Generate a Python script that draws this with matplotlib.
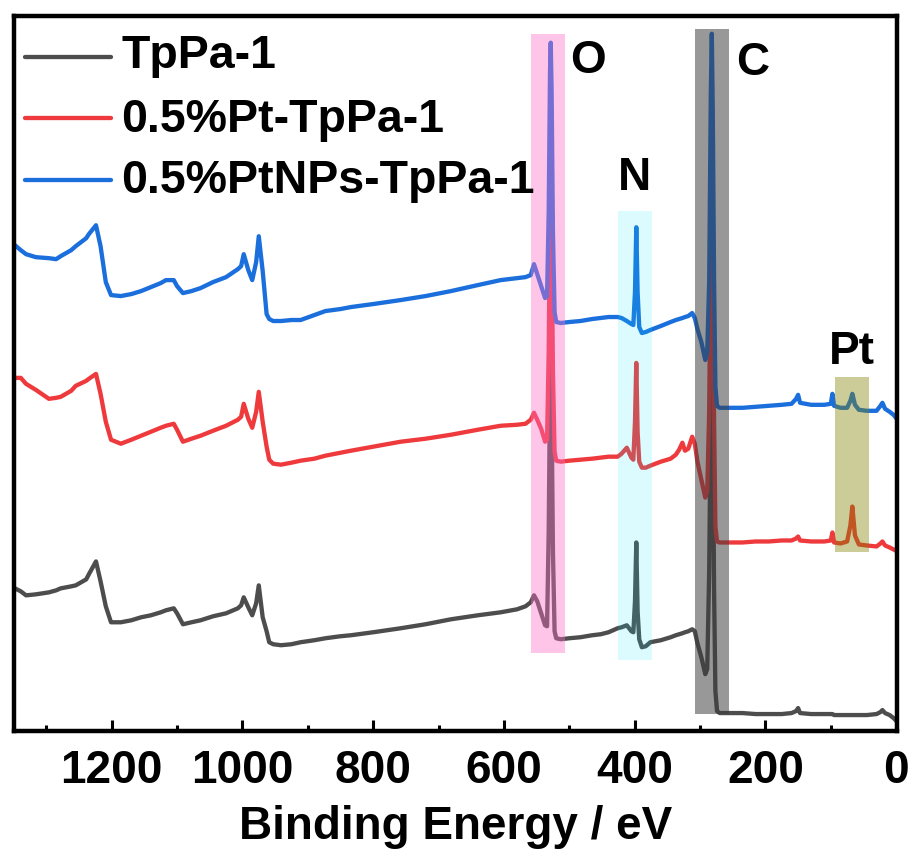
import matplotlib
matplotlib.use("Agg")
import matplotlib.pyplot as plt
from matplotlib.patches import Rectangle
from matplotlib.ticker import MultipleLocator

plt.rcParams['font.family'] = ['Liberation Sans', 'DejaVu Sans']
plt.rcParams['font.weight'] = 'bold'

# XPS survey spectra (binding energy in eV, intensity in a.u., curves offset)
binding_energy = [
    1348, 1339, 1331, 1316, 1296, 1285, 1278, 1262, 1255, 1239, 1235, 1224, 1217, 1209, 1201,
    1186, 1170, 1155, 1140, 1125, 1117, 1105, 1100, 1091, 1078, 1064, 1045, 1025, 1007, 1002,
    998, 991, 985, 979, 975, 969, 963, 959, 953, 941, 925, 911, 890, 873, 850, 834, 800, 758,
    720, 681, 640, 605, 580, 567, 559, 554, 549, 543, 537, 534, 531.5, 529.5, 528.4, 527, 525,
    522.5, 520, 513, 500, 483, 465, 452, 440, 426, 420, 412, 405, 402, 399.5, 397.5, 395.5, 393,
    389, 383, 376, 360, 345, 337, 332, 327, 323, 318, 312, 308, 304, 298, 292, 289, 286, 283.5,
    282, 280.5, 278.5, 276.5, 274, 270, 255, 235, 215, 195, 175, 160, 153, 150, 147, 130, 110,
    100, 97.5, 95, 85, 75, 70, 67, 63, 57, 45, 30, 24, 21, 17, 10, 4, -2,
]

tppa1 = [
    143, 140, 136, 137, 139, 141, 143, 145, 146, 152, 157, 170, 150, 125, 109,
    109, 111, 114, 116, 119, 121, 123, 118, 107, 109, 111, 115, 118, 123, 126,
    134, 124, 116, 128, 146, 114, 100, 89, 87, 86, 87, 89, 91, 93, 95, 96, 99, 103,
    107, 112, 116, 119, 122, 125, 129, 136, 130, 118, 106, 105, 200, 340, 370, 320, 180,
    100, 93, 92, 93, 94, 96, 97, 99, 103, 104, 106, 100, 99, 130, 189, 120, 92,
    84, 85, 89, 91, 94, 96, 97, 98, 99, 100, 102, 100, 88, 74, 57, 62, 160, 330,
    390, 310, 140, 40, 20, 18, 18, 18, 17, 17, 17, 18, 20, 23, 18, 17, 17,
    17, 17, 16, 16, 16, 16, 16, 16, 16, 16, 17, 19, 21, 18, 16, 13, 9,
]

pt_tppa1 = [
    354, 354, 348, 342, 333, 334, 335, 341, 346, 351, 353, 358, 338, 310, 292,
    288, 292, 296, 300, 304, 306, 308, 302, 290, 293, 296, 301, 306, 312, 315,
    328, 313, 304, 320, 340, 310, 285, 272, 268, 267, 269, 271, 273, 276, 279, 281, 285, 290,
    293, 297, 302, 306, 307, 308, 312, 319, 312, 303, 290, 292, 380, 520, 550, 500, 360,
    280, 271, 270, 271, 272, 273, 274, 275, 275, 278, 284, 274, 272, 310, 369, 300, 270,
    264, 264, 266, 270, 273, 277, 282, 289, 281, 283, 295, 288, 270, 252, 234, 240, 320, 500,
    560, 480, 310, 205, 190, 189, 189, 189, 190, 190, 191, 191, 193, 195, 191, 190, 190,
    191, 199, 189, 188, 190, 206, 225, 196, 187, 186, 185, 188, 190, 186, 184, 182, 180,
]

ptnps_tppa1 = [
    487, 482, 478, 475, 474, 473, 476, 482, 486, 494, 498, 507, 486, 450, 437,
    436, 438, 441, 445, 449, 452, 452, 446, 439, 441, 444, 450, 455, 463, 466,
    478, 462, 452, 470, 496, 461, 418, 413, 411, 411, 412, 412, 417, 421, 423, 425, 428, 432,
    436, 441, 447, 452, 454, 455, 457, 468, 458, 446, 434, 436, 520, 660, 690, 640, 500,
    420, 410, 409, 410, 411, 413, 414, 415, 415, 414, 411, 408, 407, 440, 505, 440, 405,
    399, 400, 402, 406, 410, 412, 413, 414, 415, 416, 419, 414, 403, 390, 372, 380, 450, 640,
    699, 620, 450, 345, 326, 324, 324, 324, 325, 326, 327, 328, 333, 337, 329, 327, 327,
    328, 338, 326, 324, 324, 331, 338, 327, 322, 321, 321, 326, 329, 323, 320, 317, 312,
]

series_labels = ['TpPa-1', '0.5%Pt-TpPa-1', '0.5%PtNPs-TpPa-1']
series_colors = ['#4d4d4d', '#ef3a3d', '#1b6fdc']

# highlighted element regions
band_labels = ['O', 'N', 'C', 'Pt']
band_energy_high = [559, 425, 307, 93]
band_energy_low = [507, 373, 256, 42]
band_intensity_low = [78, 71, 17, 179]
band_intensity_high = [699, 521, 704, 355]
band_colors = ['#ff6ec7', '#00e8ff', '#3a3a3a', '#808000']
band_alphas = [0.40, 0.14, 0.52, 0.40]
band_text_x = [472, 400, 220, 68]
band_text_y = [672, 554, 670, 380]

fig = plt.figure(figsize=(9.14, 8.52), dpi=100)
ax = fig.add_axes([0.0149, 0.142, 0.967, 0.8395])

for vals, lab, col in zip([tppa1, pt_tppa1, ptnps_tppa1], series_labels, series_colors):
    ax.plot(binding_energy, vals, color=col, lw=3.1, solid_joinstyle='round',
            solid_capstyle='round', zorder=2, label=lab)

for hi, lo, ylo, yhi, col, a in zip(band_energy_high, band_energy_low, band_intensity_low,
                                    band_intensity_high, band_colors, band_alphas):
    ax.add_patch(Rectangle((lo, ylo), hi - lo, yhi - ylo, facecolor=col, edgecolor='none',
                           alpha=a, zorder=3))

for t, x, y in zip(band_labels, band_text_x, band_text_y):
    ax.text(x, y, t, fontsize=33, fontweight='bold', ha='center', va='center', zorder=4)

# legend drawn by hand: short line next to each label
legend_line_y = [0.9427, 0.8573, 0.7706]
legend_text_y = [0.927, 0.838, 0.7525]
for lab, col, ly, ty in zip(series_labels, series_colors, legend_line_y, legend_text_y):
    ax.plot([0.013, 0.110], [ly, ly], transform=ax.transAxes, color=col, lw=3.1,
            solid_capstyle='round', zorder=5)
    ax.text(0.1215, ty, lab, transform=ax.transAxes, fontsize=33.5, fontweight='bold',
            ha='left', va='baseline', zorder=5)

ax.set_xlim(1350, -2)
ax.set_ylim(0, 717)
ax.xaxis.set_major_locator(MultipleLocator(200))
ax.xaxis.set_minor_locator(MultipleLocator(100))
ax.set_yticks([])
ax.tick_params(axis='x', which='major', direction='in', length=8.0, width=2.2,
               labelsize=33, pad=13)
ax.tick_params(axis='x', which='minor', direction='in', length=4.5, width=2.2)
for lbl in ax.get_xticklabels():
    lbl.set_fontweight('bold')
for s in ax.spines.values():
    s.set_linewidth(3.2)
ax.set_xlabel('Binding Energy / eV', fontsize=33, fontweight='bold', labelpad=8.5)

fig.savefig('out.png', dpi=100)
